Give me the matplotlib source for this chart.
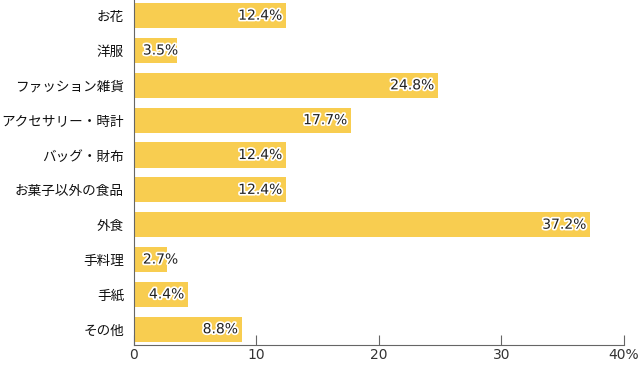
import matplotlib
matplotlib.use("Agg")
import matplotlib.pyplot as plt
import matplotlib.patheffects as pe

plt.rcParams['font.family'] = ['Noto Sans CJK JP', 'DejaVu Sans']

# データ
categories = ["お花", "洋服", "ファッション雑貨", "アクセサリー・時計", "バッグ・財布",
              "お菓子以外の食品", "外食", "手料理", "手紙", "その他"]
values = [12.4, 3.5, 24.8, 17.7, 12.4, 12.4, 37.2, 2.7, 4.4, 8.8]
ticks = [0, 10, 20, 30, 40]
tick_labels = ["0", "10", "20", "30", "40%"]

fig = plt.figure(figsize=(6.4, 3.65), dpi=100)
ax = fig.add_axes([0.209, 0.055, 0.766, 0.945])

pos = list(range(len(categories)))
ax.barh(pos, values, height=0.72, color='#F8CD50', zorder=2)

for p, v in zip(pos, values):
    x = max(v - 0.3, 3.6)
    ax.text(x, p, f"{v:.1f}%", ha='right', va='center', fontsize=10, color='#222222',
            family='DejaVu Sans',
            path_effects=[pe.withStroke(linewidth=2.5, foreground='white')], zorder=3)

ax.set_yticks(pos)
ax.set_yticklabels(categories, fontsize=9.8, color='#111111')
ax.set_ylim(len(categories) - 0.55, -0.45)
ax.set_xlim(0, 40)
ax.set_xticks(ticks)
ax.set_xticklabels(tick_labels, fontsize=10, color='#333333', family='DejaVu Sans')

for s in ['top', 'right']:
    ax.spines[s].set_visible(False)
ax.spines['left'].set_color('#666666')
ax.spines['bottom'].set_color('#666666')
ax.tick_params(axis='y', length=0, pad=7)
ax.tick_params(axis='x', direction='in', length=7, color='#666666', pad=2)

fig.savefig("out.png", dpi=100)
